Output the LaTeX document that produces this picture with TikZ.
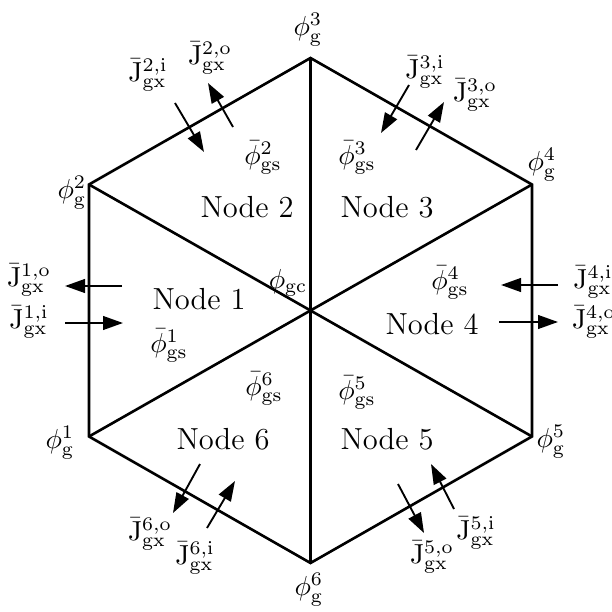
\RequirePackage{fix-cm}
\documentclass[tikz,border=0pt]{standalone}
\usetikzlibrary{arrows.meta}
\newcommand\myJ[1]{$\bar{\mathrm{J}}^{\mathrm{#1}}_{\mathrm{gx}}$}
\newcommand\myphig[1]{$\phi^{#1}_{\mathrm{g}}$}
\newcommand\myphis[1]{$\bar{\phi}^{#1}_{\mathrm{gs}}$}
\begin{document}
\begin{tikzpicture}[x=0.4pt,y=-0.4pt,
  edge/.style={line width=1.05pt},
  flux/.style={line width=0.75pt,-{Triangle[length=8pt,width=5.5pt]}},
  lbl/.style={inner sep=0pt,font=\fontsize{11}{13}\selectfont},
  nodetext/.style={inner sep=0pt,font=\fontsize{12.2}{14}\selectfont}]
\useasboundingbox (0,0) rectangle (612,612);
% hexagon
\coordinate (C) at (310.5,310.5);
\coordinate (V1) at (89,436.5);
\coordinate (V2) at (89,184.5);
\coordinate (V3) at (310.5,58);
\coordinate (V4) at (532,184.5);
\coordinate (V5) at (532,436.5);
\coordinate (V6) at (310.5,563);
\draw[edge,line join=miter] (V1)--(V2)--(V3)--(V4)--(V5)--(V6)--cycle;
\foreach \v in {1,...,6} \draw[edge] (C)--(V\v);
% vertex labels
\node[lbl] (pg1) at (60,443) {\myphig{1}};
\node[lbl] (pg2) at (72,193) {\myphig{2}};
\node[lbl] (pg3) at (308,30) {\myphig{3}};
\node[lbl] (pg4) at (542,165) {\myphig{4}};
\node[lbl] (pg5) at (551,442) {\myphig{5}};
\node[lbl] (pg6) at (309,590) {\myphig{6}};
\node[lbl] (pgc) at (288,283) {$\phi_{\mathrm{gc}}$};
% surface averages
\node[lbl] (ps1) at (169,346) {\myphis{1}};
\node[lbl] (ps2) at (263,158) {\myphis{2}};
\node[lbl] (ps3) at (357,158) {\myphis{3}};
\node[lbl] (ps4) at (450,283) {\myphis{4}};
\node[lbl] (ps5) at (357,393) {\myphis{5}};
\node[lbl] (ps6) at (264,389) {\myphis{6}};
% node names
\node[nodetext] (n1) at (199,299) {Node 1};
\node[nodetext] (n2) at (247,207) {Node 2};
\node[nodetext] (n3) at (387,207) {Node 3};
\node[nodetext] (n4) at (432,324) {Node 4};
\node[nodetext] (n5) at (387,439) {Node 5};
\node[nodetext] (n6) at (223,439) {Node 6};
% current labels
\node[lbl] (j1o) at (29,280) {\myJ{1,o}};
\node[lbl] (j1i) at (29,322) {\myJ{1,i}};
\node[lbl] (j2i) at (148,75) {\myJ{2,i}};
\node[lbl] (j2o) at (210,58) {\myJ{2,o}};
\node[lbl] (j3i) at (425,72) {\myJ{3,i}};
\node[lbl] (j3o) at (475,95) {\myJ{3,o}};
\node[lbl] (j4i) at (593,282) {\myJ{4,i}};
\node[lbl] (j4o) at (594,322) {\myJ{4,o}};
\node[lbl] (j5o) at (432,557) {\myJ{5,o}};
\node[lbl] (j5i) at (476,533) {\myJ{5,i}};
\node[lbl] (j6o) at (150,534) {\myJ{6,o}};
\node[lbl] (j6i) at (195,558) {\myJ{6,i}};
% arrows
\coordinate (a1os) at (122,286); \coordinate (a1oe) at (65,286);
\coordinate (a1is) at (65,323);  \coordinate (a1ie) at (123,323);
\coordinate (a2is) at (175,103); \coordinate (a2ie) at (204,152);
\coordinate (a2os) at (233,127); \coordinate (a2oe) at (208,83);
\coordinate (a3is) at (409,85);  \coordinate (a3ie) at (381,133);
\coordinate (a3os) at (416,150); \coordinate (a3oe) at (444,102);
\coordinate (a4is) at (558,285); \coordinate (a4ie) at (501,285);
\coordinate (a4os) at (499,322); \coordinate (a4oe) at (558,322);
\coordinate (a5os) at (398,484); \coordinate (a5oe) at (424,533);
\coordinate (a5is) at (454,509); \coordinate (a5ie) at (431,464);
\coordinate (a6os) at (200,464); \coordinate (a6oe) at (173,513);
\coordinate (a6is) at (207,528); \coordinate (a6ie) at (235,481);
\foreach \a in {1o,1i,2i,2o,3i,3o,4i,4o,5o,5i,6o,6i}
  \draw[flux] (a\a s) -- (a\a e);
\end{tikzpicture}
\end{document}
